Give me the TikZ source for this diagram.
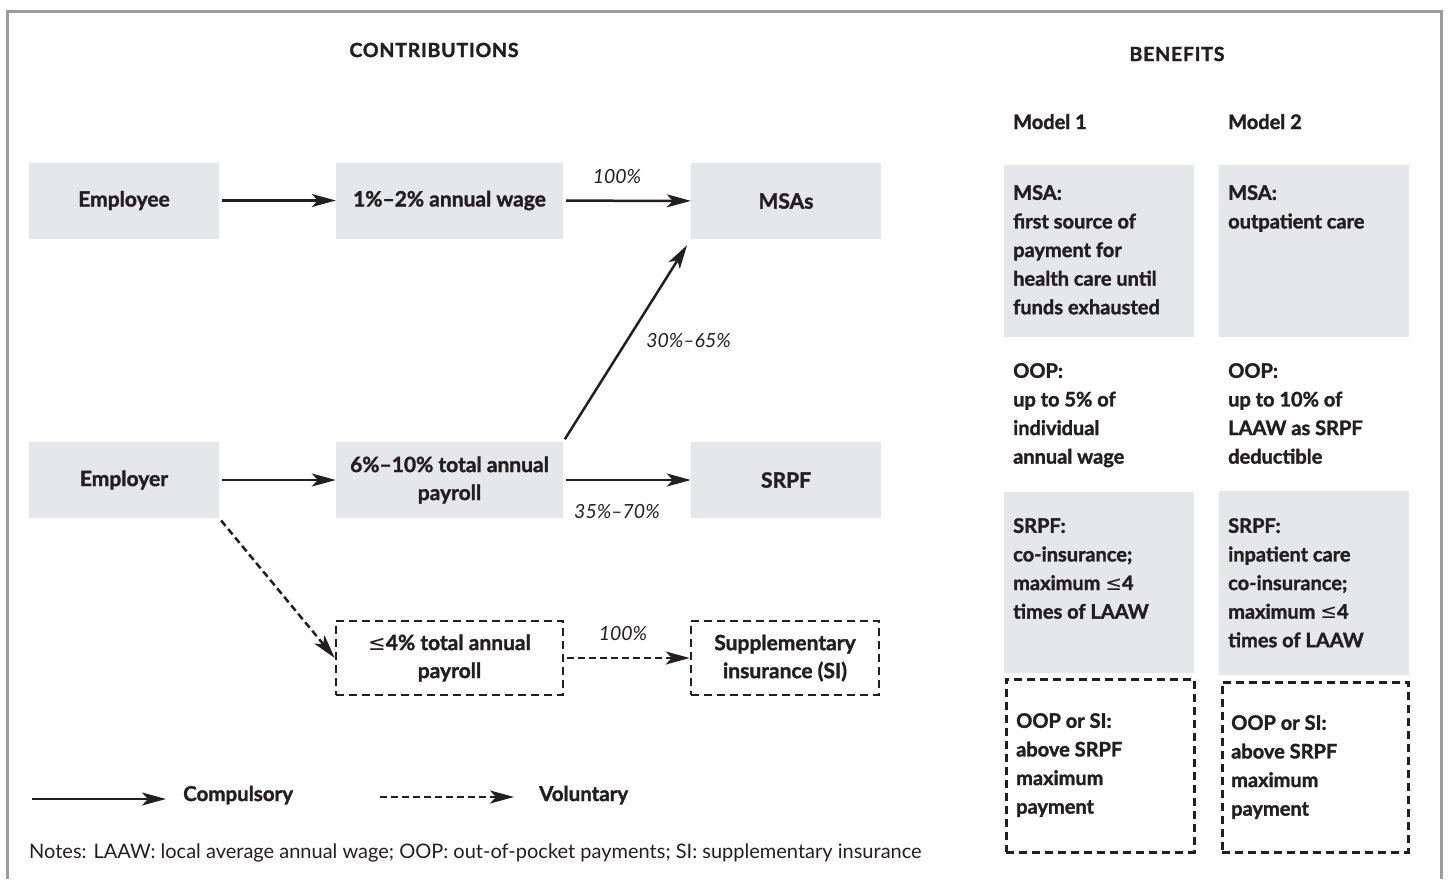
\documentclass[tikz,border=0pt]{standalone}
\usepackage{fontspec}
\setmainfont{Lato}[BoldFeatures={FakeBold=1.6}]
\newfontfamily\dejavu{DejaVu Sans}
\usetikzlibrary{arrows.meta}

\definecolor{boxgray}{HTML}{E6E7E8}
\definecolor{ink}{HTML}{231F20}
\definecolor{framegray}{HTML}{9D9D9D}
\newcommand{\leqsym}{{\dejavu\mdseries ≤}}

\begin{document}
\begin{tikzpicture}[x=1pt,y=-1pt,color=ink,
  flowbox/.style={fill=boxgray,minimum width=190pt,minimum height=76pt,inner sep=0pt,
    align=center,font=\fontsize{21}{28}\selectfont\bfseries},
  widebox/.style={flowbox,minimum width=227pt},
  volbox/.style={fill=none,draw=ink,line width=2.5pt,dash pattern=on 8pt off 5pt,minimum height=74pt},
  flow/.style={draw=ink,line width=2.5pt,shorten <=3pt,-{Stealth[length=24pt,width=13pt,inset=6pt]}},
  volflow/.style={flow,dash pattern=on 7pt off 4pt},
  share/.style={font=\fontsize{19.5}{24}\selectfont\itshape,inner sep=0pt},
  heading/.style={font=\fontsize{19.5}{24}\selectfont\bfseries,inner sep=0pt},
  benbox/.style={fill=boxgray,minimum width=190pt,anchor=north west,inner sep=0pt},
  benvol/.style={draw=ink,line width=2.5pt,dash pattern=on 8pt off 5pt,anchor=north west,inner sep=0pt},
  bentext/.style={anchor=north west,inner sep=0pt,align=left,font=\fontsize{20}{28.6}\selectfont\bfseries}]
  \useasboundingbox (0,0) rectangle (1448,879);

  % frame
  \draw [framegray,line width=2.5pt] (7.5,879) -- (7.5,11.5) -- (1441.5,11.5) -- (1441.5,879);

  % contributions
  \node [heading] (contrib) at (434,50) {\addfontfeatures{LetterSpace=4}CONTRIBUTIONS};
  \node [flowbox] (employee) at (124,200.5) {Employee};
  \node [widebox] (wage) at (449.5,200.5) {1\%--2\% annual wage};
  \node [flowbox] (msas) at (786,201) {MSAs};
  \node [flowbox] (employer) at (124,480) {Employer};
  \node [widebox] (payroll) at (449.5,480) {6\%--10\% total annual\\payroll};
  \node [flowbox] (srpf) at (786,480) {SRPF};
  \node [widebox,volbox] (suppay) at (449.5,658) {\leqsym 4\% total annual\\payroll};
  \node [flowbox,volbox,minimum width=188pt] (suppins) at (785,658) {Supplementary\\insurance (SI)};

  \draw [flow] (employee) -- (wage);
  \draw [flow] (wage) -- node [share,above=16pt,xshift=-10pt] {100\%} (msas);
  \draw [flow] (employer) -- (payroll);
  \draw [flow] (payroll) -- node [share,below=23pt,xshift=-10pt] {35\%--70\%} (srpf);
  \draw [flow,shorten >=7pt] (payroll.north east) -- node [share,right=18pt] {30\%--65\%} (msas.south west);
  \draw [volflow] (employer.south east) -- (suppay.west);
  \draw [volflow] (suppay) -- node [share,above=16pt,xshift=-4pt] {100\%} (suppins);

  % legend
  \coordinate (compA) at (32,799);
  \coordinate (compB) at (166,799);
  \coordinate (volA) at (380,797);
  \coordinate (volB) at (514,797);
  \draw [flow,shorten <=0pt] (compA) -- (compB);
  \draw [volflow,shorten <=0pt] (volA) -- (volB);
  \node [heading,anchor=base west,font=\fontsize{20.5}{24}\selectfont\bfseries] (compulsory) at (183,801) {Compulsory};
  \node [heading,anchor=base west,font=\fontsize{20.5}{24}\selectfont\bfseries] (voluntary) at (539,801) {Voluntary};
  \node [anchor=base west,inner sep=0pt,font=\fontsize{20}{24}\selectfont] (notes) at (29,858)
    {Notes: LAAW: local average annual wage; OOP: out-of-pocket payments; SI: supplementary insurance};

  % benefits
  \node [heading] (benefits) at (1177,54) {\addfontfeatures{LetterSpace=4}BENEFITS};
  \node [heading,anchor=base west,font=\fontsize{20}{24}\selectfont\bfseries] (modelA) at (1013,129) {Model 1};
  \node [heading,anchor=base west,font=\fontsize{20}{24}\selectfont\bfseries] (modelB) at (1228,129) {Model 2};

  \node [benbox,minimum height=172pt] (msaA) at (1004,165) {};
  \node [benbox,minimum height=172pt] (msaB) at (1219,165) {};
  \node [benbox,minimum height=181pt] (srpfA) at (1004,492) {};
  \node [benbox,minimum height=184pt] (srpfB) at (1219,491) {};
  \node [benvol,minimum width=188pt,minimum height=173pt] (siA) at (1005,678) {};
  \node [benvol,minimum width=186pt,minimum height=170pt] (siB) at (1221,681) {};

  \node [bentext] (msaAtext) at (1013,185) {MSA:\\first source of\\payment for\\health care until\\funds exhausted};
  \node [bentext] (msaBtext) at (1228,185) {MSA:\\outpatient care};
  \node [bentext] (oopA) at (1013,363) {OOP:\\up to 5\% of\\individual\\annual wage};
  \node [bentext] (oopB) at (1228,363) {OOP:\\up to 10\% of\\LAAW as SRPF\\deductible};
  \node [bentext] (srpfAtext) at (1013,518) {SRPF:\\co-insurance;\\maximum \leqsym 4\\times of LAAW};
  \node [bentext] (srpfBtext) at (1228,518) {SRPF:\\inpatient care\\co-insurance;\\maximum \leqsym 4\\times of LAAW};
  \node [bentext] (siAtext) at (1016,713) {OOP or SI:\\above SRPF\\maximum\\payment};
  \node [bentext] (siBtext) at (1231,715) {OOP or SI:\\above SRPF\\maximum\\payment};

\end{tikzpicture}
\end{document}
